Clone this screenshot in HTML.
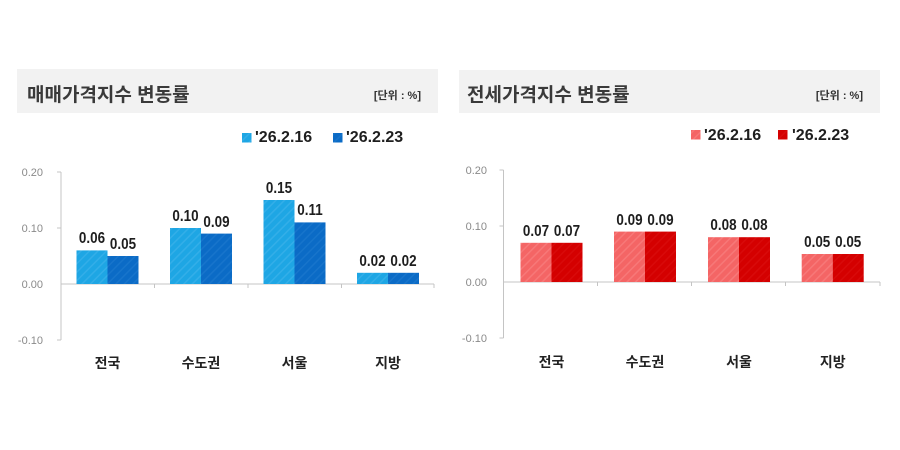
<!DOCTYPE html>
<html><head><meta charset="utf-8">
<style>
html,body{margin:0;padding:0;background:#fff;width:900px;height:450px;overflow:hidden;}
svg{display:block;}
.kr{font-family:"Liberation Sans","Noto Sans CJK KR",sans-serif;}
.yl{font-family:"Liberation Sans",sans-serif;font-size:11px;fill:#8a8a8a;}
.vl{font-family:"Liberation Sans",sans-serif;font-size:16px;font-weight:bold;fill:#1e1e1e;}
.lg{font-family:"Liberation Sans",sans-serif;font-size:16px;font-weight:bold;fill:#1e1e1e;}
.cat{font-family:"Liberation Sans","Noto Sans CJK KR",sans-serif;font-size:14px;font-weight:bold;fill:#222;}
</style></head>
<body>
<svg width="900" height="450" viewBox="0 0 900 450" xmlns="http://www.w3.org/2000/svg">
<defs>
<pattern id="pLB" patternUnits="userSpaceOnUse" width="6" height="6" patternTransform="rotate(45)">
<rect width="6" height="6" fill="#1ea6e4"/><rect width="1.5" height="6" fill="#33aee8"/></pattern>
<pattern id="pDB" patternUnits="userSpaceOnUse" width="6" height="6" patternTransform="rotate(45)">
<rect width="6" height="6" fill="#0b6bc6"/><rect width="1.5" height="6" fill="#1774cb"/></pattern>
<pattern id="pLR" patternUnits="userSpaceOnUse" width="6" height="6" patternTransform="rotate(45)">
<rect width="6" height="6" fill="#f46565"/><rect width="1.5" height="6" fill="#f77878"/></pattern>
<pattern id="pDR" patternUnits="userSpaceOnUse" width="6" height="6" patternTransform="rotate(45)">
<rect width="6" height="6" fill="#d40000"/><rect width="1.5" height="6" fill="#d80a0a"/></pattern>
</defs>

<!-- LEFT PANEL -->
<rect x="17" y="69" width="421" height="44" fill="#f2f2f2"/>
<text x="27" y="101" class="kr" font-size="19" font-weight="bold" fill="#3a3a3a">매매가격지수 변동률</text>
<text x="421" y="99" class="kr" font-size="11" font-weight="bold" fill="#333" text-anchor="end">[단위 : %]</text>

<rect x="242" y="133" width="9.5" height="9.5" fill="url(#pLB)"/>
<text x="255" y="142" class="lg">'26.2.16</text>
<rect x="333" y="133" width="9.5" height="9.5" fill="url(#pDB)"/>
<text x="346" y="142" class="lg">'26.2.23</text>

<g stroke="#c4c4c4" stroke-width="1" fill="none">
<line x1="61" y1="172" x2="61" y2="340"/>
<line x1="57" y1="172" x2="61" y2="172"/>
<line x1="57" y1="228" x2="61" y2="228"/>
<line x1="57" y1="340" x2="61" y2="340"/>
<line x1="61" y1="284" x2="434" y2="284"/>
<line x1="154.5" y1="284" x2="154.5" y2="288"/>
<line x1="248" y1="284" x2="248" y2="288"/>
<line x1="341.5" y1="284" x2="341.5" y2="288"/>
<line x1="434" y1="284" x2="434" y2="288"/>
</g>
<text x="43" y="176" class="yl" text-anchor="end">0.20</text>
<text x="43" y="232" class="yl" text-anchor="end">0.10</text>
<text x="43" y="288" class="yl" text-anchor="end">0.00</text>
<text x="43" y="344" class="yl" text-anchor="end">-0.10</text>

<rect x="76.5" y="250.4" width="31" height="33.6" fill="url(#pLB)"/>
<rect x="107.5" y="256" width="31" height="28" fill="url(#pDB)"/>
<rect x="170" y="228" width="31" height="56" fill="url(#pLB)"/>
<rect x="201" y="233.6" width="31" height="50.4" fill="url(#pDB)"/>
<rect x="263.5" y="200" width="31" height="84" fill="url(#pLB)"/>
<rect x="294.5" y="222.4" width="31" height="61.6" fill="url(#pDB)"/>
<rect x="357" y="272.8" width="31" height="11.2" fill="url(#pLB)"/>
<rect x="388" y="272.8" width="31" height="11.2" fill="url(#pDB)"/>

<g text-anchor="middle">
<text class="vl" transform="translate(92,243) scale(0.84,1)">0.06</text>
<text class="vl" transform="translate(123,249) scale(0.84,1)">0.05</text>
<text class="vl" transform="translate(185.5,221) scale(0.84,1)">0.10</text>
<text class="vl" transform="translate(216.5,227) scale(0.84,1)">0.09</text>
<text class="vl" transform="translate(279,193) scale(0.84,1)">0.15</text>
<text class="vl" transform="translate(310,215) scale(0.84,1)">0.11</text>
<text class="vl" transform="translate(372.5,266) scale(0.84,1)">0.02</text>
<text class="vl" transform="translate(403.5,266) scale(0.84,1)">0.02</text>
</g>

<g text-anchor="middle">
<text x="107.5" y="368" class="cat">전국</text>
<text x="201" y="368" class="cat">수도권</text>
<text x="294.5" y="368" class="cat">서울</text>
<text x="388" y="368" class="cat">지방</text>
</g>

<!-- RIGHT PANEL -->
<rect x="459" y="70" width="421" height="43" fill="#f2f2f2"/>
<text x="467" y="101" class="kr" font-size="19" font-weight="bold" fill="#3a3a3a">전세가격지수 변동률</text>
<text x="863" y="99" class="kr" font-size="11" font-weight="bold" fill="#333" text-anchor="end">[단위 : %]</text>

<rect x="691" y="130" width="9.5" height="9.5" fill="url(#pLR)"/>
<text x="704" y="140" class="lg">'26.2.16</text>
<rect x="778" y="130" width="9.5" height="9.5" fill="url(#pDR)"/>
<text x="792" y="140" class="lg">'26.2.23</text>

<g stroke="#c4c4c4" stroke-width="1" fill="none">
<line x1="503.5" y1="170" x2="503.5" y2="338"/>
<line x1="499.5" y1="170" x2="503.5" y2="170"/>
<line x1="499.5" y1="226" x2="503.5" y2="226"/>
<line x1="499.5" y1="338" x2="503.5" y2="338"/>
<line x1="503.5" y1="282" x2="880" y2="282"/>
<line x1="597.5" y1="282" x2="597.5" y2="286"/>
<line x1="691.5" y1="282" x2="691.5" y2="286"/>
<line x1="785.5" y1="282" x2="785.5" y2="286"/>
<line x1="880" y1="282" x2="880" y2="286"/>
</g>
<text x="487" y="174" class="yl" text-anchor="end">0.20</text>
<text x="487" y="230" class="yl" text-anchor="end">0.10</text>
<text x="487" y="286" class="yl" text-anchor="end">0.00</text>
<text x="487" y="342" class="yl" text-anchor="end">-0.10</text>

<rect x="520.5" y="242.8" width="31" height="39.2" fill="url(#pLR)"/>
<rect x="551.5" y="242.8" width="31" height="39.2" fill="url(#pDR)"/>
<rect x="614" y="231.6" width="31" height="50.4" fill="url(#pLR)"/>
<rect x="645" y="231.6" width="31" height="50.4" fill="url(#pDR)"/>
<rect x="708" y="237.2" width="31" height="44.8" fill="url(#pLR)"/>
<rect x="739" y="237.2" width="31" height="44.8" fill="url(#pDR)"/>
<rect x="801.7" y="254" width="31" height="28" fill="url(#pLR)"/>
<rect x="832.7" y="254" width="31" height="28" fill="url(#pDR)"/>

<g text-anchor="middle">
<text class="vl" transform="translate(536,236) scale(0.84,1)">0.07</text>
<text class="vl" transform="translate(567,236) scale(0.84,1)">0.07</text>
<text class="vl" transform="translate(629.5,225) scale(0.84,1)">0.09</text>
<text class="vl" transform="translate(660.5,225) scale(0.84,1)">0.09</text>
<text class="vl" transform="translate(723.5,230) scale(0.84,1)">0.08</text>
<text class="vl" transform="translate(754.5,230) scale(0.84,1)">0.08</text>
<text class="vl" transform="translate(817.2,247) scale(0.84,1)">0.05</text>
<text class="vl" transform="translate(848.2,247) scale(0.84,1)">0.05</text>
</g>

<g text-anchor="middle">
<text x="551.5" y="367" class="cat">전국</text>
<text x="645" y="367" class="cat">수도권</text>
<text x="739" y="367" class="cat">서울</text>
<text x="832.7" y="367" class="cat">지방</text>
</g>
</svg>
</body></html>
